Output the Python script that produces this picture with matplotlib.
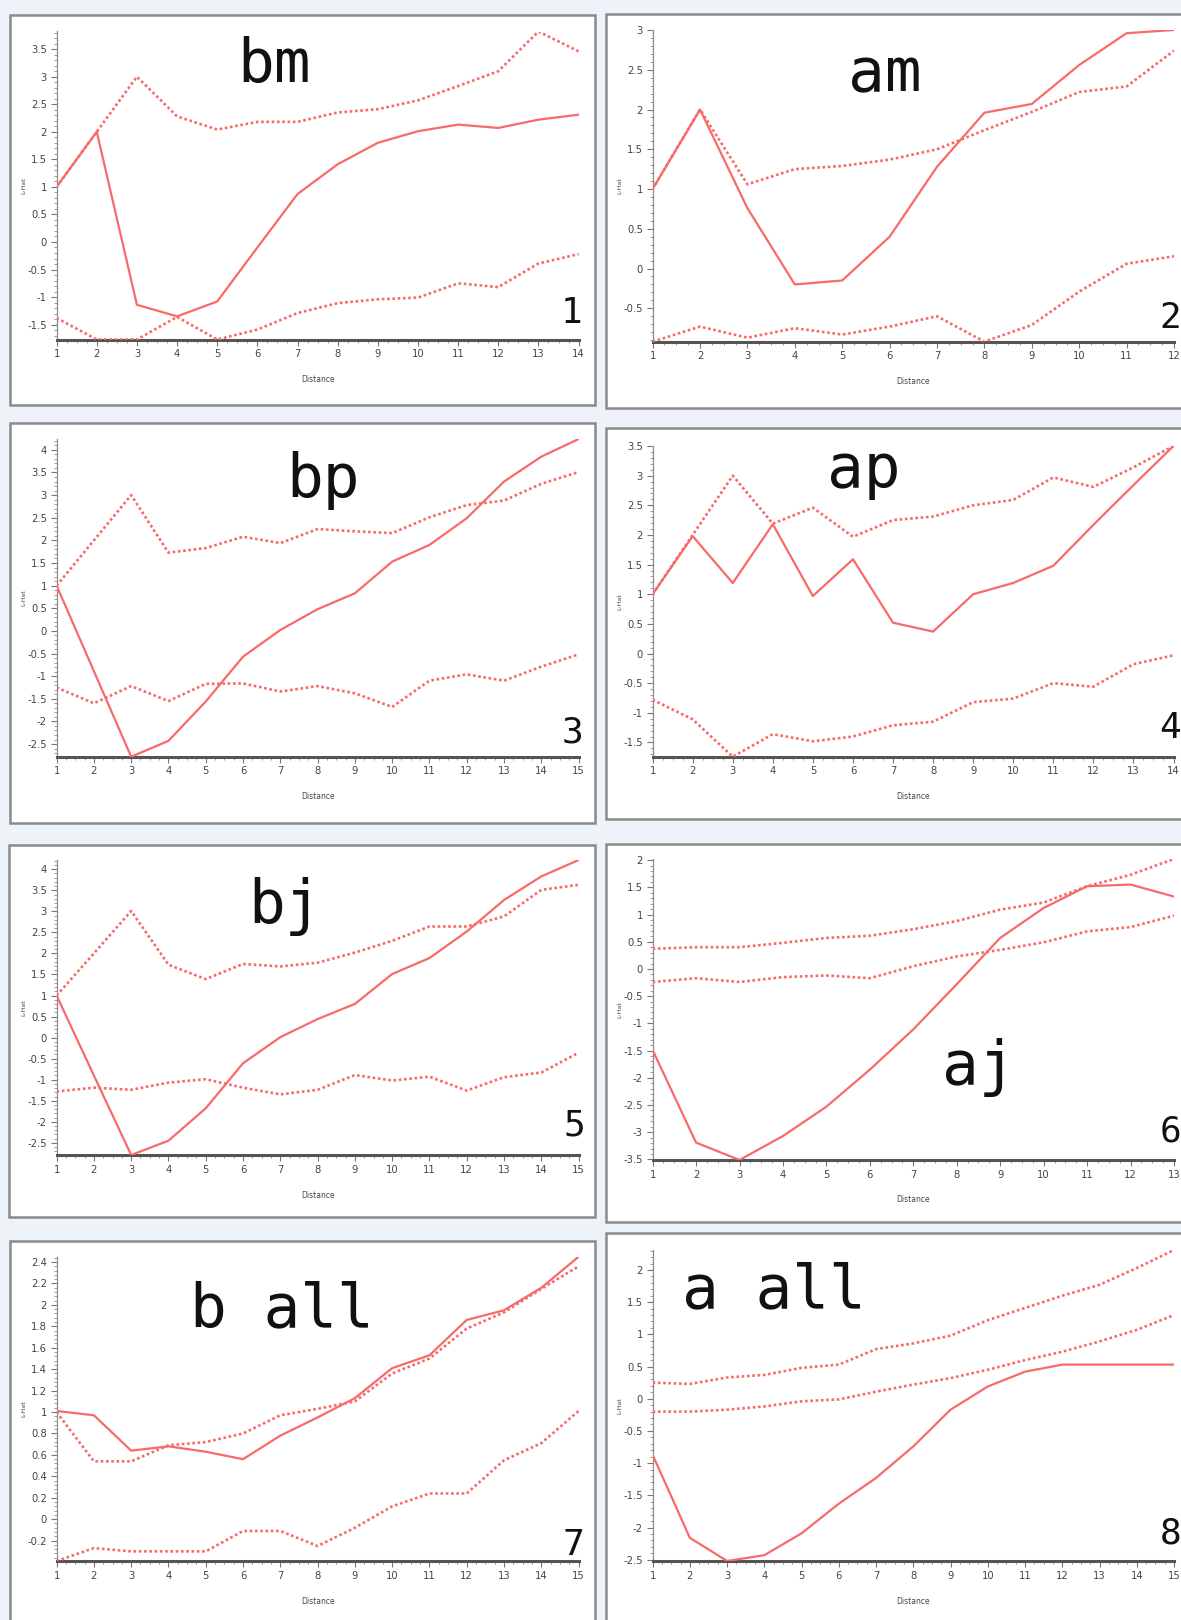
import matplotlib
matplotlib.use('Agg')
import matplotlib.pyplot as plt
from matplotlib.patches import Rectangle
from matplotlib.ticker import MultipleLocator, AutoMinorLocator, FuncFormatter

# ---------------- data ----------------
titles = ['bm', 'am', 'bp', 'ap', 'bj', 'aj', 'b all', 'a all']
panel_numbers = ['1', '2', '3', '4', '5', '6', '7', '8']

dist_bm = list(range(1, 15))
lhat_bm = [1.0, 2.0, -1.14, -1.35, -1.08, -0.1, 0.87, 1.41, 1.80, 2.01, 2.13, 2.07, 2.22, 2.31]
upper_bm = [1.0, 2.0, 3.0, 2.28, 2.04, 2.18, 2.18, 2.35, 2.41, 2.57, 2.83, 3.10, 3.82, 3.46]
lower_bm = [-1.38, -1.77, -1.77, -1.36, -1.77, -1.59, -1.29, -1.11, -1.04, -1.01, -0.75, -0.82, -0.39, -0.22]

dist_am = list(range(1, 13))
lhat_am = [1.0, 2.0, 0.76, -0.20, -0.15, 0.40, 1.28, 1.96, 2.07, 2.56, 2.96, 3.0]
upper_am = [1.0, 2.0, 1.06, 1.25, 1.29, 1.37, 1.50, 1.74, 1.97, 2.22, 2.29, 2.74]
lower_am = [-0.92, -0.73, -0.87, -0.75, -0.83, -0.73, -0.60, -0.92, -0.71, -0.29, 0.06, 0.155]

dist_bp = list(range(1, 16))
lhat_bp = [1.0, -0.89, -2.78, -2.43, -1.56, -0.57, 0.02, 0.48, 0.83, 1.53, 1.90, 2.49, 3.30, 3.85, 4.24]
upper_bp = [1.0, 2.0, 3.0, 1.73, 1.83, 2.08, 1.94, 2.25, 2.20, 2.16, 2.51, 2.78, 2.88, 3.25, 3.51]
lower_bp = [-1.25, -1.60, -1.22, -1.55, -1.17, -1.16, -1.34, -1.22, -1.38, -1.68, -1.10, -0.96, -1.10, -0.79, -0.52]

dist_ap = list(range(1, 15))
lhat_ap = [1.0, 1.98, 1.19, 2.18, 0.97, 1.59, 0.52, 0.37, 1.0, 1.19, 1.48, 2.17, 2.84, 3.5]
upper_ap = [1.0, 2.0, 3.0, 2.19, 2.46, 1.97, 2.25, 2.31, 2.50, 2.59, 2.97, 2.81, 3.14, 3.5]
lower_ap = [-0.78, -1.11, -1.74, -1.36, -1.48, -1.40, -1.21, -1.15, -0.82, -0.76, -0.50, -0.56, -0.18, -0.03]

dist_bj = list(range(1, 16))
lhat_bj = [1.0, -0.9, -2.79, -2.45, -1.68, -0.61, 0.01, 0.44, 0.80, 1.51, 1.89, 2.52, 3.27, 3.83, 4.22]
upper_bj = [1.0, 2.0, 3.01, 1.73, 1.39, 1.75, 1.69, 1.78, 2.02, 2.30, 2.64, 2.64, 2.88, 3.51, 3.63]
lower_bj = [-1.28, -1.19, -1.24, -1.07, -0.99, -1.19, -1.35, -1.24, -0.89, -1.02, -0.93, -1.26, -0.94, -0.83, -0.36]

dist_aj = list(range(1, 14))
lhat_aj = [-1.49, -3.19, -3.51, -3.07, -2.53, -1.85, -1.11, -0.28, 0.57, 1.12, 1.52, 1.55, 1.33]
upper_aj = [0.37, 0.40, 0.40, 0.48, 0.57, 0.61, 0.73, 0.88, 1.09, 1.22, 1.52, 1.73, 2.02]
lower_aj = [-0.24, -0.17, -0.24, -0.15, -0.12, -0.17, 0.05, 0.23, 0.35, 0.49, 0.69, 0.77, 0.98]

dist_ball = list(range(1, 16))
lhat_ball = [1.01, 0.97, 0.64, 0.68, 0.63, 0.56, 0.78, 0.95, 1.13, 1.41, 1.53, 1.86, 1.95, 2.16, 2.45]
upper_ball = [1.0, 0.54, 0.54, 0.69, 0.72, 0.80, 0.97, 1.03, 1.10, 1.36, 1.50, 1.78, 1.93, 2.15, 2.36]
lower_ball = [-0.39, -0.27, -0.30, -0.30, -0.30, -0.11, -0.11, -0.25, -0.08, 0.12, 0.24, 0.24, 0.55, 0.71, 1.01]

dist_aall = list(range(1, 16))
lhat_aall = [-0.87, -2.16, -2.52, -2.43, -2.09, -1.63, -1.23, -0.74, -0.17, 0.19, 0.42, 0.53, 0.53, 0.53, 0.53]
upper_aall = [0.25, 0.23, 0.33, 0.37, 0.48, 0.53, 0.77, 0.86, 0.98, 1.22, 1.41, 1.60, 1.77, 2.03, 2.31]
lower_aall = [-0.20, -0.20, -0.17, -0.12, -0.04, -0.01, 0.11, 0.22, 0.32, 0.45, 0.60, 0.73, 0.89, 1.07, 1.30]

y_steps = [0.5, 0.5, 0.5, 0.5, 0.5, 0.5, 0.2, 0.5]

panels = [
    (dist_bm, lhat_bm, upper_bm, lower_bm),
    (dist_am, lhat_am, upper_am, lower_am),
    (dist_bp, lhat_bp, upper_bp, lower_bp),
    (dist_ap, lhat_ap, upper_ap, lower_ap),
    (dist_bj, lhat_bj, upper_bj, lower_bj),
    (dist_aj, lhat_aj, upper_aj, lower_aj),
    (dist_ball, lhat_ball, upper_ball, lower_ball),
    (dist_aall, lhat_aall, upper_aall, lower_aall),
]

# ---------------- layout (pixels) ----------------
W, H = 1181, 1620
# axes: left, right, top, bottom
axes_px = [
    (56.6, 578.6, 31.5, 339.5),
    (652.6, 1174.0, 30.0, 341.7),
    (56.6, 578.6, 439.0, 756.7),
    (652.6, 1173.5, 446.0, 756.7),
    (56.6, 578.6, 860.0, 1155.0),
    (652.6, 1174.0, 859.0, 1160.0),
    (56.6, 578.6, 1256.7, 1561.0),
    (652.6, 1174.0, 1250.0, 1561.0),
]
# boxes: left, right, top, bottom
boxes_px = [
    (9.6, 595, 15, 405),
    (605.6, 1195, 14, 408),
    (9.6, 595, 423, 823),
    (605.6, 1195, 428, 819),
    (9.0, 595, 845, 1217),
    (605.6, 1195, 844, 1222),
    (9.6, 595, 1240.7, 1630),
    (605.6, 1195, 1233, 1630),
]
title_px = [(274, 82), (885, 91), (323, 497), (864, 487),
            (285, 923), (979, 1084), (282, 1326), (774, 1307)]
number_px = [(572, 323), (1170.5, 328), (572.5, 743), (1170.5, 738),
             (574, 1135), (1170, 1141), (573.5, 1555), (1170.5, 1543)]

LINE = '#f86a6a'

fig = plt.figure(figsize=(W / 100, H / 100), dpi=100, facecolor='#eef3f9')

for (l, r, t, b) in boxes_px:
    fig.add_artist(Rectangle((l / W, 1 - b / H), (r - l) / W, (b - t) / H,
                             transform=fig.transFigure, facecolor='white',
                             edgecolor='#8a8a8a', linewidth=1.8, zorder=0))


def fmt(v, pos):
    v = round(v, 6)
    if abs(v) < 1e-9:
        return '0'
    return '%g' % v


for i, (dist, lhat, upper, lower) in enumerate(panels):
    l, r, t, b = axes_px[i]
    ax = fig.add_axes([l / W, 1 - b / H, (r - l) / W, (b - t) / H])
    ax.set_facecolor('none')
    ax.plot(dist, upper, color=LINE, lw=1.9, linestyle=(0, (1.0, 1.0)), zorder=3)
    ax.plot(dist, lower, color=LINE, lw=1.9, linestyle=(0, (1.0, 1.0)), zorder=3)
    ax.plot(dist, lhat, color=LINE, lw=1.6, solid_joinstyle='round', zorder=4)

    ymin = min(min(lhat), min(upper), min(lower))
    ymax = max(max(lhat), max(upper), max(lower))
    ax.set_xlim(dist[0], dist[-1])
    ax.set_ylim(ymin, ymax)

    ax.xaxis.set_major_locator(MultipleLocator(1))
    ax.xaxis.set_minor_locator(AutoMinorLocator(4))
    ax.yaxis.set_major_locator(MultipleLocator(y_steps[i]))
    ax.yaxis.set_minor_locator(AutoMinorLocator(5))
    ax.yaxis.set_major_formatter(FuncFormatter(fmt))

    for s in ('top', 'right'):
        ax.spines[s].set_visible(False)
    ax.spines['left'].set_color('#8c8c8c')
    ax.spines['left'].set_linewidth(0.9)
    ax.spines['bottom'].set_color('#555555')
    ax.spines['bottom'].set_linewidth(2.2)

    ax.tick_params(axis='both', which='major', length=4, width=0.8,
                   color='#777777', labelsize=8, labelcolor='#444444', pad=3)
    ax.tick_params(axis='both', which='minor', length=2.2, width=0.6,
                   color='#888888')
    for lab in ax.get_xticklabels() + ax.get_yticklabels():
        lab.set_fontstretch('condensed')

    ax.set_xlabel('Distance', fontsize=5.5, color='#444444')
    ax.xaxis.set_label_coords(0.5, -40 / (b - t))
    ax.xaxis.label.set_va('center')
    ax.set_ylabel('L-Hat', fontsize=4.5, color='#444444')
    ax.yaxis.set_label_coords(-33 / (r - l), 0.5)
    ax.yaxis.label.set_va('center')

    cx, by = title_px[i]
    fig.text(cx / W, 1 - by / H, titles[i], ha='center', va='baseline',
             fontsize=44, family='DejaVu Sans Mono', color='#111111')
    nx, ny = number_px[i]
    fig.text(nx / W, 1 - ny / H, panel_numbers[i], ha='center', va='baseline',
             fontsize=26, family='DejaVu Sans Mono', color='#111111')

fig.savefig('out.png', dpi=100, facecolor=fig.get_facecolor())
